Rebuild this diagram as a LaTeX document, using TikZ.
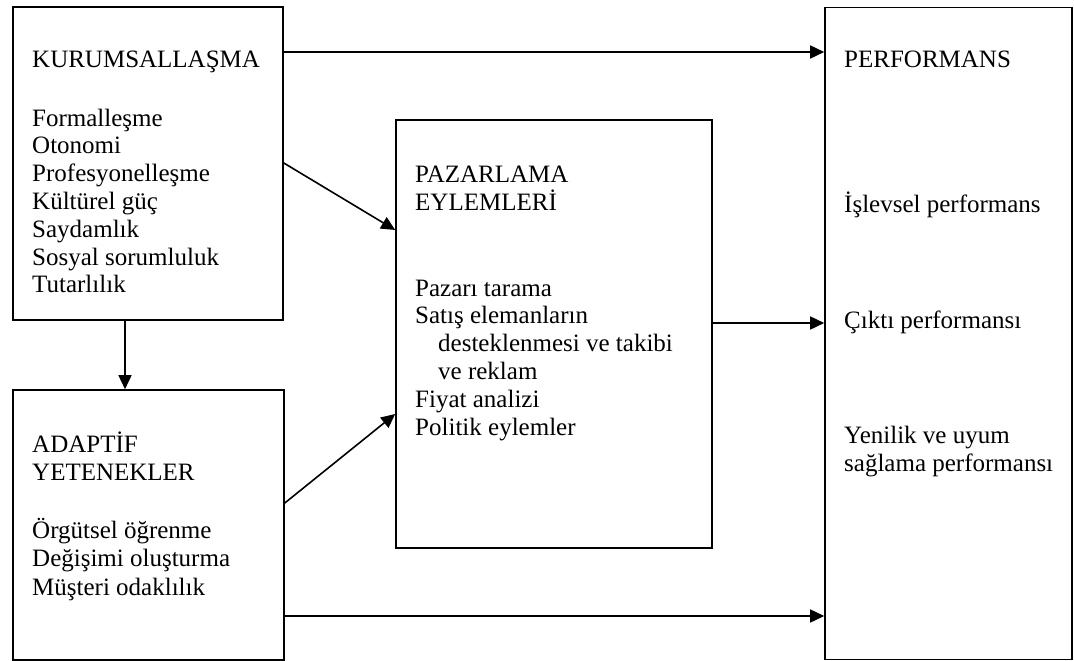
\documentclass[tikz,border=0pt]{standalone}
\usepackage{fontspec}
\setmainfont{Liberation Serif}
\usetikzlibrary{arrows.meta}
\begin{document}
\begin{tikzpicture}[x=1pt,y=-1pt,
  box/.style={draw=black,line width=1.6pt,minimum width=#1,inner sep=0pt},
  txt/.style={anchor=base west,inner sep=0pt,font=\fontsize{25}{28}\selectfont},
  arr/.style={line width=1.6pt,-{Triangle[length=14pt,width=13pt]}},
]
\useasboundingbox (0,0) rectangle (1074,661);
% boxes
\node[box=270pt,minimum height=313pt] (kur) at (148,163.5) {};
\node[box=271pt,minimum height=270pt] (ada) at (148.5,525) {};
\node[box=316pt,minimum height=428pt] (paz) at (554,334) {};
\node[box=247pt,minimum height=652pt] (per) at (948.5,333.5) {};
% KURUMSALLASMA text
\node[txt] (k0) at (32,68) {KURUMSALLAŞMA};
\node[txt] (k1) at (32,126) {Formalleşme};
\node[txt] (k2) at (32,153.8) {Otonomi};
\node[txt] (k3) at (32,181.6) {Profesyonelleşme};
\node[txt] (k4) at (32,209.4) {Kültürel güç};
\node[txt] (k5) at (32,237.2) {Saydamlık};
\node[txt] (k6) at (32,265) {Sosyal sorumluluk};
\node[txt] (k7) at (32,292.8) {Tutarlılık};
% ADAPTIF text
\node[txt] (a0) at (32,452) {ADAPTİF};
\node[txt] (a1) at (32,480) {YETENEKLER};
\node[txt] (a2) at (32,538) {Örgütsel öğrenme};
\node[txt] (a3) at (32,566.5) {Değişimi oluşturma};
\node[txt] (a4) at (32,595) {Müşteri odaklılık};
% PAZARLAMA text
\node[txt] (p0) at (415,182) {PAZARLAMA};
\node[txt] (p1) at (415,210) {EYLEMLERİ};
\node[txt] (p2) at (415,296) {Pazarı tarama};
\node[txt] (p3) at (415,323.5) {Satış elemanların};
\node[txt] (p4) at (438,351.5) {desteklenmesi ve takibi};
\node[txt] (p5) at (438,379.5) {ve reklam};
\node[txt] (p6) at (415,407) {Fiyat analizi};
\node[txt] (p7) at (415,435) {Politik eylemler};
% PERFORMANS text
\node[txt] (r0) at (844,68) {PERFORMANS};
\node[txt] (r1) at (844,212) {İşlevsel performans};
\node[txt] (r2) at (844,328) {Çıktı performansı};
\node[txt] (r3) at (844,443) {Yenilik ve uyum};
\node[txt] (r4) at (844,471) {sağlama performansı};
% connectors
\draw[arr] (kur.east |- 0,52) -- (per.west |- 0,52);
\draw[arr] (kur.east |- 0,163) -- (paz.west |- 0,230);
\draw[arr] (kur.south -| 125,0) -- (ada.north -| 125,0);
\draw[arr] (ada.east |- 0,503) -- (paz.west |- 0,414);
\draw[arr] (paz.east |- 0,323) -- (per.west |- 0,323);
\draw[arr] (ada.east |- 0,616) -- (per.west |- 0,616);
\end{tikzpicture}
\end{document}
